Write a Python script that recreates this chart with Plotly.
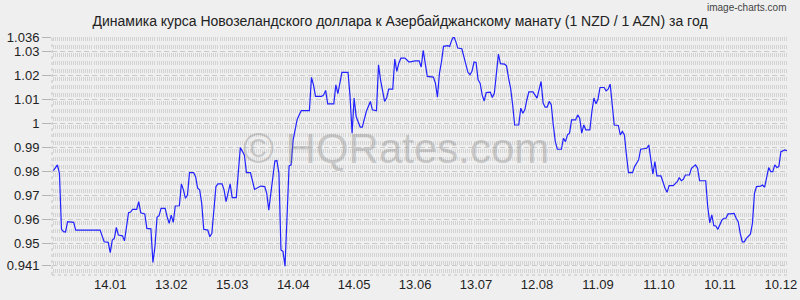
import plotly.graph_objects as go

# ---- data ----
dates = [
    "2024-12-17", "2024-12-18", "2024-12-19", "2024-12-20", "2024-12-21", "2024-12-22", "2024-12-23", "2024-12-24",
    "2024-12-27", "2024-12-28", "2025-01-09", "2025-01-11", "2025-01-13", "2025-01-14", "2025-01-15", "2025-01-16",
    "2025-01-17", "2025-01-18", "2025-01-20", "2025-01-21", "2025-01-23", "2025-01-24", "2025-01-25", "2025-01-27",
    "2025-01-28", "2025-01-29", "2025-01-31", "2025-02-01", "2025-02-03", "2025-02-04", "2025-02-05", "2025-02-06",
    "2025-02-07", "2025-02-08", "2025-02-10", "2025-02-11", "2025-02-12", "2025-02-13", "2025-02-14", "2025-02-15",
    "2025-02-17", "2025-02-18", "2025-02-19", "2025-02-20", "2025-02-21", "2025-02-22", "2025-02-24", "2025-02-25",
    "2025-02-26", "2025-02-27", "2025-02-28", "2025-03-01", "2025-03-03", "2025-03-04", "2025-03-05", "2025-03-07",
    "2025-03-08", "2025-03-10", "2025-03-11", "2025-03-12", "2025-03-13", "2025-03-14", "2025-03-15", "2025-03-17",
    "2025-03-19", "2025-03-21", "2025-03-22", "2025-03-24", "2025-03-26", "2025-03-27", "2025-03-29", "2025-03-31",
    "2025-04-01", "2025-04-02", "2025-04-03", "2025-04-05", "2025-04-06", "2025-04-07", "2025-04-08", "2025-04-09",
    "2025-04-10", "2025-04-11", "2025-04-12", "2025-04-13", "2025-04-14", "2025-04-16", "2025-04-17", "2025-04-18",
    "2025-04-22", "2025-04-23", "2025-04-24", "2025-04-25", "2025-04-28", "2025-04-29", "2025-04-30", "2025-05-01",
    "2025-05-04", "2025-05-05", "2025-05-06", "2025-05-08", "2025-05-11", "2025-05-12", "2025-05-13", "2025-05-14",
    "2025-05-15", "2025-05-17", "2025-05-18", "2025-05-20", "2025-05-22", "2025-05-23", "2025-05-25", "2025-05-26",
    "2025-05-27", "2025-05-29", "2025-05-30", "2025-05-31", "2025-06-02", "2025-06-03", "2025-06-04", "2025-06-05",
    "2025-06-06", "2025-06-08", "2025-06-10", "2025-06-12", "2025-06-13", "2025-06-15", "2025-06-16", "2025-06-17",
    "2025-06-18", "2025-06-19", "2025-06-22", "2025-06-23", "2025-06-24", "2025-06-25", "2025-06-26", "2025-06-27",
    "2025-06-29", "2025-06-30", "2025-07-01", "2025-07-02", "2025-07-03", "2025-07-04", "2025-07-06", "2025-07-08",
    "2025-07-09", "2025-07-10", "2025-07-11", "2025-07-12", "2025-07-13", "2025-07-14", "2025-07-15", "2025-07-16",
    "2025-07-17", "2025-07-18", "2025-07-20", "2025-07-21", "2025-07-22", "2025-07-24", "2025-07-25", "2025-07-27",
    "2025-07-28", "2025-07-29", "2025-07-30", "2025-07-31", "2025-08-01", "2025-08-03", "2025-08-04", "2025-08-05",
    "2025-08-06", "2025-08-07", "2025-08-08", "2025-08-10", "2025-08-11", "2025-08-12", "2025-08-14", "2025-08-15",
    "2025-08-16", "2025-08-17", "2025-08-18", "2025-08-19", "2025-08-20", "2025-08-21", "2025-08-22", "2025-08-24",
    "2025-08-25", "2025-08-26", "2025-08-27", "2025-08-28", "2025-08-29", "2025-08-31", "2025-09-01", "2025-09-02",
    "2025-09-03", "2025-09-04", "2025-09-05", "2025-09-07", "2025-09-08", "2025-09-09", "2025-09-10", "2025-09-11",
    "2025-09-12", "2025-09-14", "2025-09-15", "2025-09-16", "2025-09-17", "2025-09-18", "2025-09-19", "2025-09-21",
    "2025-09-22", "2025-09-23", "2025-09-24", "2025-09-25", "2025-09-26", "2025-09-28", "2025-09-29", "2025-09-30",
    "2025-10-01", "2025-10-02", "2025-10-04", "2025-10-05", "2025-10-06", "2025-10-07", "2025-10-08", "2025-10-09",
    "2025-10-10", "2025-10-12", "2025-10-13", "2025-10-14", "2025-10-15", "2025-10-16", "2025-10-18", "2025-10-20",
    "2025-10-21", "2025-10-22", "2025-10-23", "2025-10-24", "2025-10-26", "2025-10-27", "2025-10-29", "2025-10-30",
    "2025-10-31", "2025-11-03", "2025-11-04", "2025-11-05", "2025-11-06", "2025-11-07", "2025-11-08", "2025-11-09",
    "2025-11-11", "2025-11-12", "2025-11-13", "2025-11-14", "2025-11-15", "2025-11-17", "2025-11-18", "2025-11-19",
    "2025-11-20", "2025-11-21", "2025-11-22", "2025-11-23", "2025-11-25", "2025-11-26", "2025-11-27", "2025-11-28",
    "2025-11-30", "2025-12-01", "2025-12-02", "2025-12-03", "2025-12-04", "2025-12-05", "2025-12-06", "2025-12-07",
    "2025-12-08", "2025-12-09", "2025-12-10", "2025-12-12", "2025-12-13",
]

rates = [
    0.9804, 0.9816, 0.9828, 0.9793, 0.9560, 0.9550, 0.9549, 0.9592,
    0.9589, 0.9557, 0.9557, 0.9508, 0.9506, 0.9463, 0.9515, 0.9522,
    0.9568, 0.9536, 0.9533, 0.9512, 0.9629, 0.9632, 0.9643, 0.9643,
    0.9675, 0.9629, 0.9624, 0.9564, 0.9562, 0.9422, 0.9488, 0.9610,
    0.9617, 0.9647, 0.9647, 0.9612, 0.9585, 0.9619, 0.9589, 0.9657,
    0.9658, 0.9749, 0.9724, 0.9689, 0.9703, 0.9796, 0.9796, 0.9779,
    0.9731, 0.9724, 0.9668, 0.9560, 0.9557, 0.9529, 0.9543, 0.9738,
    0.9749, 0.9749, 0.9724, 0.9675, 0.9710, 0.9749, 0.9692, 0.9692,
    0.9900, 0.9869, 0.9796, 0.9796, 0.9726, 0.9731, 0.9740, 0.9738,
    0.9710, 0.9640, 0.9710, 0.9844, 0.9846, 0.9793, 0.9474, 0.9468,
    0.9407, 0.9613, 0.9824, 0.9828, 0.9932, 1.0018, 1.0036, 1.0054,
    1.0054, 1.0192, 1.0161, 1.0113, 1.0113, 1.0119, 1.0138, 1.0082,
    1.0082, 1.0161, 1.0124, 1.0213, 1.0213, 1.0113, 0.9960, 1.0106,
    1.0029, 0.9985, 0.9985, 1.0050, 1.0092, 1.0057, 1.0053, 1.0244,
    1.0182, 1.0092, 1.0106, 1.0143, 1.0143, 1.0268, 1.0217, 1.0251,
    1.0272, 1.0272, 1.0256, 1.0261, 1.0261, 1.0261, 1.0235, 1.0304,
    1.0258, 1.0196, 1.0193, 1.0168, 1.0110, 1.0210, 1.0258, 1.0321,
    1.0324, 1.0321, 1.0346, 1.0363, 1.0342, 1.0314, 1.0311, 1.0244,
    1.0213, 1.0203, 1.0217, 1.0256, 1.0254, 1.0182, 1.0168, 1.0119,
    1.0094, 1.0129, 1.0131, 1.0108, 1.0126, 1.0289, 1.0249, 1.0247,
    1.0240, 1.0189, 1.0147, 1.0078, 0.9994, 0.9994, 1.0064, 1.0043,
    1.0057, 1.0099, 1.0132, 1.0132, 1.0119, 1.0106, 1.0175, 1.0085,
    1.0068, 1.0068, 1.0092, 1.0078, 0.9994, 0.9925, 0.9893, 0.9893,
    0.9939, 0.9925, 0.9953, 0.9960, 1.0015, 1.0015, 1.0036, 1.0022,
    0.9960, 0.9994, 0.9974, 0.9974, 1.0050, 1.0106, 1.0082, 1.0101,
    1.0150, 1.0150, 1.0136, 1.0143, 1.0164, 1.0092, 0.9994, 0.9992,
    0.9953, 0.9967, 0.9953, 0.9869, 0.9796, 0.9796, 0.9821, 0.9835,
    0.9849, 0.9893, 0.9897, 0.9897, 0.9911, 0.9849, 0.9790, 0.9842,
    0.9782, 0.9782, 0.9751, 0.9731, 0.9714, 0.9742, 0.9742, 0.9758,
    0.9775, 0.9762, 0.9768, 0.9786, 0.9786, 0.9814, 0.9828, 0.9814,
    0.9762, 0.9762, 0.9654, 0.9587, 0.9620, 0.9575, 0.9574, 0.9560,
    0.9599, 0.9606, 0.9606, 0.9624, 0.9624, 0.9626, 0.9606, 0.9592,
    0.9543, 0.9508, 0.9508, 0.9522, 0.9540, 0.9585, 0.9710, 0.9738,
    0.9740, 0.9744, 0.9735, 0.9772, 0.9817, 0.9800, 0.9800, 0.9828,
    0.9817, 0.9821, 0.9883, 0.9890, 0.9887,
]

x_tick_dates = ["2025-01-14", "2025-02-13", "2025-03-15", "2025-04-14", "2025-05-14", "2025-06-13",
                "2025-07-13", "2025-08-12", "2025-09-11", "2025-10-11", "2025-11-10", "2025-12-10"]
x_tick_labels = ["14.01", "13.02", "15.03", "14.04", "14.05", "13.06",
                 "13.07", "12.08", "11.09", "11.10", "10.11", "10.12"]
y_tick_vals = [0.941, 0.95, 0.96, 0.97, 0.98, 0.99, 1.0, 1.01, 1.02, 1.03, 1.036]
y_tick_labels = ["0.941", "0.95", "0.96", "0.97", "0.98", "0.99", "1", "1.01", "1.02", "1.03", "1.036"]

title_text = "Динамика курса Новозеландского доллара к Азербайджанскому манату (1 NZD / 1 AZN) за год"
watermark_text = "© HQRates.com"
credit_text = "image-charts.com"

FONT = "Liberation Sans, Arial, sans-serif"
BG = "#efefef"

fig = go.Figure()
fig.add_trace(go.Scatter(
    x=dates, y=rates, mode="lines",
    line=dict(color="#2222ff", width=1.2),
    hoverinfo="skip", showlegend=False,
))

fig.update_layout(
    width=800, height=300,
    margin=dict(l=52, r=3, t=37, b=25),
    paper_bgcolor=BG, plot_bgcolor=BG,
    font=dict(family=FONT, size=13, color="#222222"),
    title=dict(text=title_text, x=0.5, xanchor="center", xref="container",
               y=0.93, yref="container", yanchor="middle",
               font=dict(family=FONT, size=14, color="#222222")),
    showlegend=False,
)

fig.update_xaxes(
    type="date",
    range=["2024-12-16 08:00", "2025-12-13 12:00"],
    tickmode="array", tickvals=x_tick_dates, ticktext=x_tick_labels,
    ticklabeloverflow="allow",
    showgrid=False, zeroline=False, showline=False, ticks="",
    tickfont=dict(family=FONT, size=13, color="#222222"),
    minor=dict(tickmode="linear", tick0="2024-12-16", dtick=86400000,
               showgrid=True, gridcolor="#d3d3d3", gridwidth=1, griddash="4px,4px"),
)

fig.update_yaxes(
    range=[0.937, 1.036],
    tickmode="array", tickvals=y_tick_vals, ticktext=y_tick_labels,
    showgrid=True, gridcolor="#cbcbcb", gridwidth=1, griddash="5px,3px",
    zeroline=False, showline=False,
    ticks="outside", ticklen=9, tickcolor="#b5b5b5", tickwidth=1,
    tickfont=dict(family=FONT, size=13, color="#222222"),
)

# axis frame lines (dotted, as in the reference)
fig.add_shape(type="line", xref="paper", yref="paper", x0=0, x1=0, y0=0, y1=1,
              line=dict(color="#c4c4c4", width=1, dash="dot"))
fig.add_shape(type="line", xref="paper", yref="paper", x0=0, x1=1, y0=0, y1=0,
              line=dict(color="#c4c4c4", width=1, dash="dot"))

fig.add_annotation(text=watermark_text, xref="paper", yref="paper", x=0.467, y=0.53,
                   xanchor="center", yanchor="middle", showarrow=False,
                   font=dict(family=FONT, size=42, color="rgba(130,130,130,0.35)"))
fig.add_annotation(text=credit_text, xref="paper", yref="paper", x=1.0, y=1.122,
                   xanchor="right", yanchor="middle", showarrow=False,
                   font=dict(family=FONT, size=10, color="#444444"))

fig.write_html("out.html")
